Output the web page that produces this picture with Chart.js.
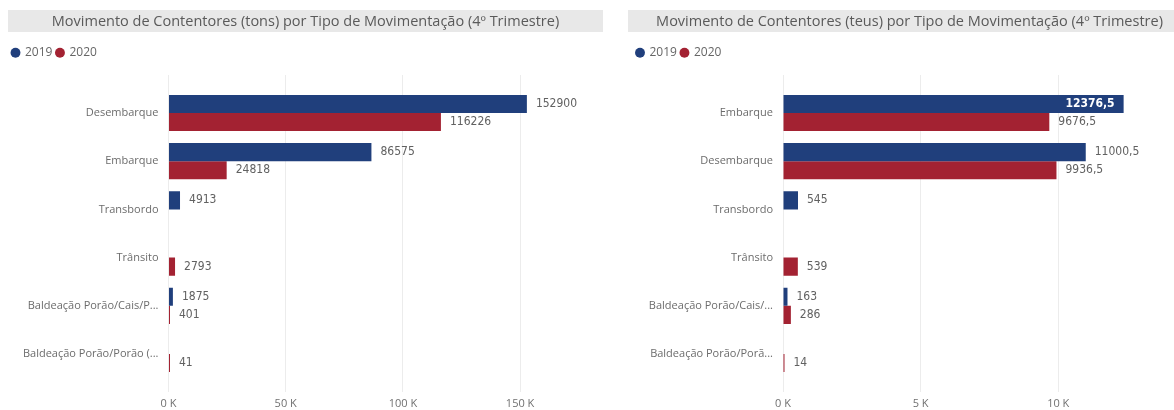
<!DOCTYPE html>
<html lang="pt">
<head>
<meta charset="UTF-8">
<title>Movimento de Contentores por Tipo de Movimentação</title>
<script src="https://cdn.jsdelivr.net/npm/chart.js@4"></script>
<style>
  body { margin: 0; background: #fff; overflow: hidden; }
  .panel { position: absolute; top: 10px; height: 406px; }
  #tonsPanel { left: 8px; width: 595px; }
  #teusPanel { left: 628px; width: 563px; }
</style>
</head>
<body>
<div class="panel" id="tonsPanel"><canvas id="tonsChart"></canvas></div>
<div class="panel" id="teusPanel"><canvas id="teusChart"></canvas></div>

<script>
const seriesNames = ['2019', '2020'];
const seriesColors = ['#203f7c', '#a32232'];

// tonelagem
const tonsCategories = ['Desembarque', 'Embarque', 'Transbordo', 'Trânsito',
  'Baldeação Porão/Cais/P...', 'Baldeação Porão/Porão (...'];
const tons2019 = [152900, 86575, 4913, null, 1875, null];
const tons2020 = [116226, 24818, null, 2793, 401, 41];
const tonsTicks = [0, 50000, 100000, 150000];

// teus
const teusCategories = ['Embarque', 'Desembarque', 'Transbordo', 'Trânsito',
  'Baldeação Porão/Cais/...', 'Baldeação Porão/Porã...'];
const teus2019 = [12376.5, 11000.5, 545, null, 163, null];
const teus2020 = [9676.5, 9936.5, null, 539, 286, 14];
const teusTicks = [0, 5000, 10000];

const uiFont = '"Open Sans", "Noto Sans", sans-serif';
const valueFont = '"DejaVu Sans Condensed", "Liberation Sans Narrow", Roboto, sans-serif';

// gray header strip with the chart title
const titleBar = {
  id: 'titleBar',
  beforeDraw(chart, args, opts) {
    const ctx = chart.ctx;
    ctx.save();
    ctx.fillStyle = '#e8e8e8';
    ctx.fillRect(0, 0, chart.width, 22);
    ctx.fillStyle = '#5a5a5a';
    ctx.font = '14.5px ' + uiFont;
    ctx.textAlign = 'center';
    ctx.textBaseline = 'middle';
    ctx.fillText(opts.text, chart.width / 2, 11.5);
    ctx.restore();
  }
};

// a bit more room between legend and plot
const legendSpacer = {
  id: 'legendSpacer',
  beforeLayout(chart, args, opts) {
    const legend = chart.legend;
    if (!legend || legend._spaced) return;
    const fit = legend.fit;
    legend.fit = function () {
      fit.call(this);
      this.height += opts.extra;
    };
    legend._spaced = true;
  }
};

// value labels at the end of each bar (inside when there is no room)
const barValues = {
  id: 'barValues',
  afterDatasetsDraw(chart) {
    const { ctx, chartArea } = chart;
    ctx.save();
    ctx.textBaseline = 'middle';
    chart.data.datasets.forEach((ds, di) => {
      const meta = chart.getDatasetMeta(di);
      meta.data.forEach((bar, i) => {
        const v = ds.data[i].x;
        if (v == null) return;
        const text = String(v).replace('.', ',');
        ctx.font = '12px ' + valueFont;
        const w = ctx.measureText(text).width;
        if (bar.x + 9 + w > chartArea.right) {
          ctx.font = 'bold 12px ' + valueFont;
          ctx.fillStyle = '#ffffff';
          ctx.textAlign = 'right';
          ctx.fillText(text, bar.x - 9, bar.y);
        } else {
          ctx.fillStyle = '#616161';
          ctx.textAlign = 'left';
          ctx.fillText(text, bar.x + 9, bar.y);
        }
      });
    });
    ctx.restore();
  }
};

function makeChart(canvasId, title, categories, values2019, values2020, tickValues, xMax, cfg) {
  const toPoints = arr => arr.map((v, i) => ({ x: v, y: i }));
  return new Chart(document.getElementById(canvasId), {
    type: 'bar',
    data: {
      datasets: [
        { label: seriesNames[0], data: toPoints(values2019), backgroundColor: seriesColors[0] },
        { label: seriesNames[1], data: toPoints(values2020), backgroundColor: seriesColors[1] }
      ]
    },
    plugins: [titleBar, legendSpacer, barValues],
    options: {
      indexAxis: 'y',
      responsive: true,
      maintainAspectRatio: false,
      animation: false,
      datasets: {
        bar: { categoryPercentage: 0.75, barPercentage: 1, minBarLength: 1.5 }
      },
      layout: { padding: { top: 32.7, left: cfg.padLeft, right: cfg.padRight, bottom: 0 } },
      plugins: {
        titleBar: { text: title },
        legendSpacer: { extra: 6.3 },
        tooltip: { enabled: false },
        legend: {
          position: 'top',
          align: 'start',
          labels: {
            usePointStyle: true,
            pointStyle: 'circle',
            boxWidth: 7,
            boxHeight: 7,
            padding: 4,
            color: '#666',
            font: { family: uiFont, size: 12 }
          }
        }
      },
      scales: {
        x: {
          type: 'linear',
          min: 0,
          max: xMax,
          afterBuildTicks: s => { s.ticks = tickValues.map(v => ({ value: v })); },
          grid: { color: '#ececec', drawTicks: false },
          border: { display: false },
          ticks: {
            padding: 5.4,
            color: '#707070',
            font: { family: uiFont, size: 11 },
            callback: v => (v / 1000) + ' K'
          }
        },
        y: {
          // categories sit on integer positions, with a margin above and below
          type: 'linear',
          reverse: true,
          offset: false,
          min: -0.788,
          max: categories.length - 1 + 0.788,
          afterBuildTicks: s => { s.ticks = categories.map((c, i) => ({ value: i })); },
          afterFit: s => { s.width = cfg.axisWidth; },
          grid: { display: false, drawTicks: false },
          border: { display: false },
          ticks: {
            padding: 10,
            color: '#6c6c6c',
            font: { family: uiFont, size: 11 },
            callback: v => categories[v]
          }
        }
      }
    }
  });
}

makeChart('tonsChart',
  'Movimento de Contentores (tons) por Tipo de Movimentação (4º Trimestre)',
  tonsCategories, tons2019, tons2020, tonsTicks, 180000,
  { padLeft: 0, padRight: 12.6, axisWidth: 160.5 });

makeChart('teusChart',
  'Movimento de Contentores (teus) por Tipo de Movimentação (4º Trimestre)',
  teusCategories, teus2019, teus2020, teusTicks, 14000,
  { padLeft: 4.5, padRight: 22.7, axisWidth: 150.5 });
</script>
</body>
</html>
